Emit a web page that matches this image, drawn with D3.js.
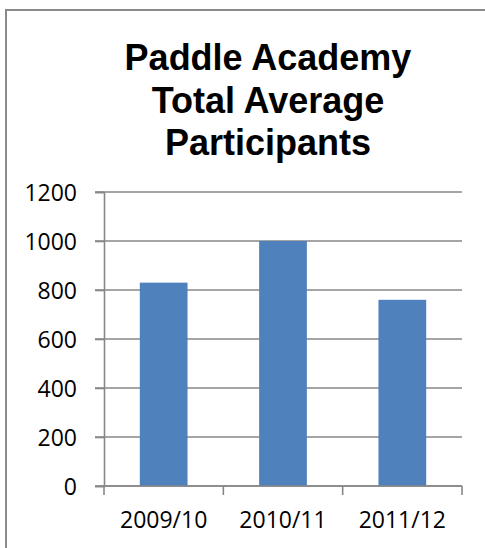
<!DOCTYPE html>
<html>
<head>
<meta charset="utf-8">
<script src="https://cdn.jsdelivr.net/npm/d3@7/dist/d3.min.js"></script>
<style>
  html, body { margin: 0; padding: 0; background: #fff; }
  svg { display: block; }
</style>
</head>
<body>
<svg id="chart" width="485" height="548"></svg>
<script>
const categories = ["2009/10", "2010/11", "2011/12"];
const values = [830, 1000, 760];
const yTicks = [0, 200, 400, 600, 800, 1000, 1200];
const titleLines = ["Paddle Academy", "Total Average", "Participants"];

const svg = d3.select("#chart");

// outer chart border (extends past right/bottom edges)
svg.append("rect")
  .attr("x", 6).attr("y", 10)
  .attr("width", 520).attr("height", 560)
  .attr("fill", "#fff")
  .attr("stroke", "#8a8a8a")
  .attr("stroke-width", 2);

const plotLeft = 104, plotRight = 462, plotTop = 192, plotBottom = 486;

const x = d3.scaleBand().domain(categories).range([plotLeft, plotRight])
  .paddingInner(0.6).paddingOuter(0.3);
const y = d3.scaleLinear().domain([0, 1200]).range([plotBottom, plotTop]);

// gridlines
svg.append("g").selectAll("line").data(yTicks).join("line")
  .attr("x1", plotLeft - 9).attr("x2", plotRight)
  .attr("y1", d => y(d)).attr("y2", d => y(d))
  .attr("stroke", "#878787").attr("stroke-width", 1.6);

// bars
svg.append("g").selectAll("rect").data(values).join("rect")
  .attr("x", (d, i) => x(categories[i]))
  .attr("width", x.bandwidth())
  .attr("y", d => y(d))
  .attr("height", d => y(0) - y(d))
  .attr("fill", "#4f81bd");

// y axis
const yAxis = svg.append("g").attr("transform", `translate(${plotLeft},0)`)
  .call(d3.axisLeft(y).tickValues(yTicks).tickSize(9).tickPadding(18).tickFormat(d3.format("d")));
yAxis.select(".domain").attr("stroke", "#878787").attr("stroke-width", 1.6);
yAxis.selectAll(".tick line").attr("stroke", "#878787").attr("stroke-width", 1.6);
yAxis.selectAll(".tick text")
  .attr("font-family", "'Open Sans', sans-serif")
  .attr("font-size", 23)
  .attr("fill", "#000")
  .attr("dy", "0.36em");

// x axis
const xTickPos = d3.range(categories.length + 1).map(i => plotLeft + i * (plotRight - plotLeft) / categories.length);
const xg = svg.append("g");
xg.append("line").attr("x1", plotLeft).attr("x2", plotRight).attr("y1", plotBottom).attr("y2", plotBottom)
  .attr("stroke", "#878787").attr("stroke-width", 1.6);
xg.selectAll("line.tk").data(xTickPos).join("line").attr("class", "tk")
  .attr("x1", d => d).attr("x2", d => d)
  .attr("y1", plotBottom).attr("y2", plotBottom + 9)
  .attr("stroke", "#878787").attr("stroke-width", 1.6);
xg.selectAll("text").data(categories).join("text")
  .attr("x", d => x(d) + x.bandwidth() / 2)
  .attr("y", 528)
  .attr("text-anchor", "middle")
  .attr("font-family", "'Open Sans', sans-serif")
  .attr("font-size", 23)
  .attr("fill", "#000")
  .text(d => d);

// title
svg.append("g").selectAll("text").data(titleLines).join("text")
  .attr("x", 268)
  .attr("y", (d, i) => 70 + i * 42.5)
  .attr("text-anchor", "middle")
  .attr("font-family", "'Liberation Sans', Arial, sans-serif")
  .attr("font-weight", "bold")
  .attr("font-size", 36)
  .attr("fill", "#000")
  .text(d => d);
</script>
</body>
</html>
